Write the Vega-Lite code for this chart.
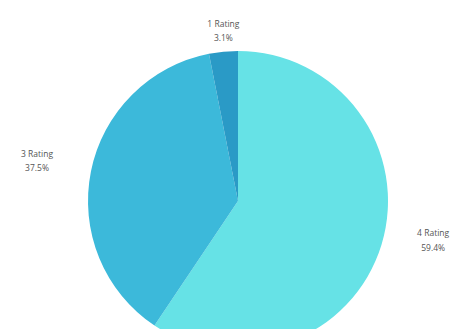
{
  "$schema": "https://vega.github.io/schema/vega-lite/v6.json",
  "width": 462,
  "height": 402,
  "autosize": "none",
  "padding": {"left": 7, "top": 0, "right": 0, "bottom": 0},
  "background": "white",
  "view": {"stroke": null},
  "data": {
    "values": [
      {"rating": "4 Rating", "share": 59.4, "pct": "59.4%", "rank": 1},
      {"rating": "3 Rating", "share": 37.5, "pct": "37.5%", "rank": 2},
      {"rating": "1 Rating", "share": 3.1, "pct": "3.1%", "rank": 3}
    ]
  },
  "encoding": {
    "theta": {"field": "share", "type": "quantitative", "stack": true},
    "order": {"field": "rank", "type": "quantitative"},
    "color": {
      "field": "rating",
      "type": "nominal",
      "scale": {"domain": ["4 Rating", "3 Rating", "1 Rating"], "range": ["#66E2E6", "#3CB9DA", "#2A9AC6"]},
      "legend": null
    }
  },
  "layer": [
    {"mark": {"type": "arc", "outerRadius": 150}},
    {
      "mark": {"type": "text", "radius": 171, "dy": -7, "dx": 2, "fontSize": 8.5, "font": "Open Sans"},
      "encoding": {"text": {"condition": {"test": "datum.rating == '1 Rating'", "field": "rating"}, "value": ""}, "color": {"value": "#555555"}}
    },
    {
      "mark": {"type": "text", "radius": 171, "dy": 7, "dx": 2, "fontSize": 8.5, "font": "Open Sans"},
      "encoding": {"text": {"condition": {"test": "datum.rating == '1 Rating'", "field": "pct"}, "value": ""}, "color": {"value": "#555555"}}
    },
    {
      "mark": {"type": "text", "radius": 205, "dy": -7, "fontSize": 8.5, "font": "Open Sans"},
      "encoding": {"text": {"condition": {"test": "datum.rating == '3 Rating'", "field": "rating"}, "value": ""}, "color": {"value": "#555555"}}
    },
    {
      "mark": {"type": "text", "radius": 205, "dy": 7, "fontSize": 8.5, "font": "Open Sans"},
      "encoding": {"text": {"condition": {"test": "datum.rating == '3 Rating'", "field": "pct"}, "value": ""}, "color": {"value": "#555555"}}
    },
    {
      "mark": {"type": "text", "radius": 205, "dy": -28, "dx": -1, "fontSize": 8.5, "font": "Open Sans"},
      "encoding": {"text": {"condition": {"test": "datum.rating == '4 Rating'", "field": "rating"}, "value": ""}, "color": {"value": "#555555"}}
    },
    {
      "mark": {"type": "text", "radius": 205, "dy": -13, "dx": -1, "fontSize": 8.5, "font": "Open Sans"},
      "encoding": {"text": {"condition": {"test": "datum.rating == '4 Rating'", "field": "pct"}, "value": ""}, "color": {"value": "#555555"}}
    }
  ]
}
